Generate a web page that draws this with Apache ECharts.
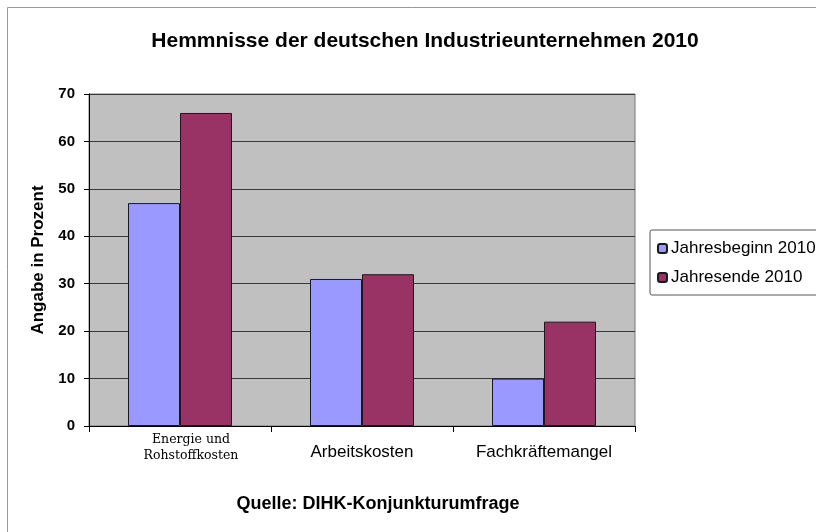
<!DOCTYPE html>
<html>
<head>
<meta charset="utf-8">
<script src="https://cdn.jsdelivr.net/npm/echarts@6/dist/echarts.min.js"></script>
<style>
  html, body { margin: 0; padding: 0; background: #fff; }
  #chart { width: 816px; height: 532px; }
</style>
</head>
<body>
<div id="chart"></div>
<script>
// data
var categories = ['Energie und\nRohstoffkosten', 'Arbeitskosten', 'Fachkräftemangel'];
var seriesNames = ['Jahresbeginn 2010', 'Jahresende 2010'];
var beginValues = [47, 31, 10];
var endValues = [66, 32, 22];

var chart = echarts.init(document.getElementById('chart'));

var option = {
  backgroundColor: '#fff',
  animation: false,
  title: [
    {
      text: 'Hemmnisse der deutschen Industrieunternehmen 2010',
      left: 420,
      top: 26,
      textAlign: 'center',
      textStyle: { fontFamily: 'Liberation Sans', fontSize: 21, fontWeight: 'bold', color: '#000' }
    },
    {
      text: 'Quelle: DIHK-Konjunkturumfrage',
      left: 373,
      top: 490,
      textAlign: 'center',
      textStyle: { fontFamily: 'Liberation Sans', fontSize: 18, fontWeight: 'bold', color: '#000' }
    }
  ],
  legend: {
    orient: 'vertical',
    left: 650,
    top: 230,
    itemWidth: 9,
    itemHeight: 9,
    itemGap: 12,
    padding: [10, 6, 9, 7],
    borderColor: '#555',
    borderWidth: 1,
    borderRadius: 2,
    data: seriesNames,
    textStyle: { fontFamily: 'Liberation Sans', fontSize: 17, color: '#000', padding: [0, 0, 0, -1] }
  },
  grid: {
    left: 89,
    top: 94,
    right: 181,
    bottom: 106,
    show: true,
    backgroundColor: '#c0c0c0',
    borderColor: '#777',
    borderWidth: 1
  },
  xAxis: {
    type: 'category',
    data: categories,
    axisLine: { lineStyle: { color: '#000', width: 1 } },
    axisTick: { show: true, length: 6, lineStyle: { color: '#000' } },
    axisLabel: {
      margin: 6,
      color: '#000',
      formatter: function (v, i) {
        if (i === 0) {
          return '{serif|Energie und}\n{serif|Rohstoffkosten}';
        }
        return '{sans|' + v + '}';
      },
      rich: {
        serif: {
          fontFamily: 'DejaVu Serif',
          fontSize: 12.5,
          color: '#000',
          lineHeight: 16,
          align: 'center',
          padding: [0, 0, 0, 22]
        },
        sans: {
          fontFamily: 'Liberation Sans',
          fontSize: 17,
          color: '#000',
          lineHeight: 40
        }
      }
    }
  },
  yAxis: {
    type: 'value',
    min: 0,
    max: 70,
    interval: 10,
    name: 'Angabe in Prozent',
    nameLocation: 'middle',
    nameGap: 42,
    nameTextStyle: { fontFamily: 'Liberation Sans', fontSize: 17, fontWeight: 'bold', color: '#000' },
    axisLine: { show: true, lineStyle: { color: '#000', width: 1 } },
    axisTick: { show: true, length: 5, lineStyle: { color: '#000' } },
    axisLabel: {
      margin: 14,
      fontFamily: 'Liberation Sans',
      fontSize: 15,
      fontWeight: 'bold',
      color: '#000'
    },
    splitLine: { lineStyle: { color: '#3a3a3a', width: 1 } }
  },
  series: [
    {
      name: seriesNames[0],
      type: 'bar',
      data: beginValues,
      barWidth: 52,
      barGap: '0%',
      itemStyle: { color: '#9999ff', borderColor: '#1a1a1a', borderWidth: 1 }
    },
    {
      name: seriesNames[1],
      type: 'bar',
      data: endValues,
      barWidth: 52,
      barGap: '0%',
      itemStyle: { color: '#993366', borderColor: '#1a1a1a', borderWidth: 1 }
    }
  ],
  graphic: [
    {
      type: 'polyline',
      shape: { points: [[7.5, 532], [7.5, 7.5], [816, 7.5]] },
      style: { stroke: '#999', lineWidth: 1, fill: null }
    }
  ]
};

chart.setOption(option);
</script>
</body>
</html>
